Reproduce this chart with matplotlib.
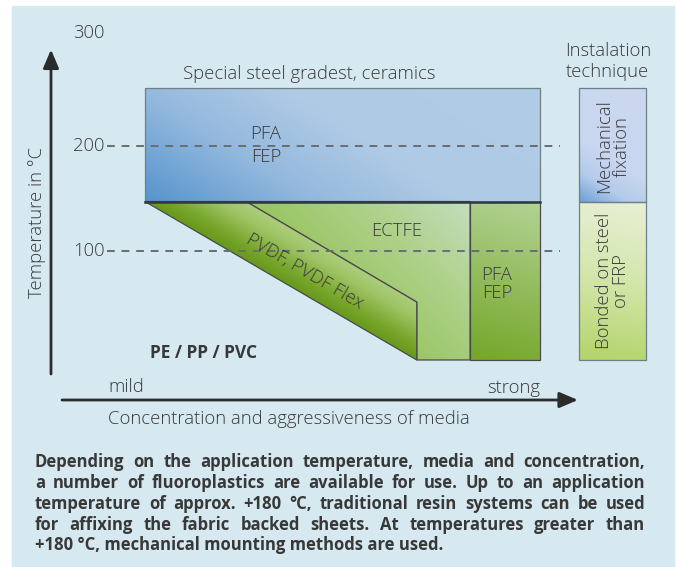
import numpy as np
import matplotlib.pyplot as plt
from matplotlib.patches import Polygon, Rectangle
from matplotlib.colors import LinearSegmentedColormap

# Werte (x = Konzentration 0..100, y = Temperatur in °C)
temp_ticks = [100, 200]
temp_tick_labels = ['100', '200']
steel_top = 255          # Special steel / ceramics
fluoro_top = 147         # Grenze blau / gruen
base_temp = -3.5         # Unterkante
pvdf_end_temp = 51.5     # rechte Oberkante PVDF-Band
conc_pvdf_start = 25.6   # PVDF-Band oben rechts
conc_pvdf_end = 68.8     # PVDF-Band rechte Kante
conc_pfa = 82.3          # PFA/FEP Spalte
conc_max = 100
install_conc = [110.0, 126.9]

caption_lines = [
    "Depending on the application temperature, media and concentration,",
    "a number of fluoroplastics are available for use. Up to an application",
    "temperature of approx. +180 °C, traditional resin systems can be used",
    "for affixing the fabric backed sheets. At temperatures greater than",
    "+180 °C, mechanical mounting methods are used.",
]

W, H = 677, 567
PX_X, PX_Y = 3.95, 1.053   # Pixel pro Einheit
panel_col = '#d6e9f0'
txt_col = '#383838'
plt.rcParams['font.family'] = ['Open Sans', 'DejaVu Sans']

fig = plt.figure(figsize=(W / 100, H / 100), dpi=100)
fig.patch.set_facecolor('white')
fig.patches.append(Rectangle((12 / W, 0), (674 - 12) / W, (567 - 6) / H,
                             transform=fig.transFigure, color=panel_col, zorder=-5))

ax = fig.add_axes([0, 0, 1, 1])
ax.set_facecolor('none')
ax.axis('off')


def grad_poly(verts, stops, direction, z=2, ec='#4a4a4a', lw=0.9):
    verts = np.array(verts, dtype=float)
    poly = Polygon(verts, closed=True, facecolor='none', edgecolor=ec, lw=lw, zorder=z + 0.1)
    ax.add_patch(poly)
    x0, x1 = verts[:, 0].min(), verts[:, 0].max()
    y0, y1 = verts[:, 1].min(), verts[:, 1].max()
    X, Y = np.meshgrid(np.linspace(x0, x1, 200), np.linspace(y0, y1, 200))
    d = np.array(direction, dtype=float)
    d /= np.linalg.norm(d)
    proj = (X - x0) * PX_X * d[0] + (Y - y0) * PX_Y * d[1]
    pv = (verts[:, 0] - x0) * PX_X * d[0] + (verts[:, 1] - y0) * PX_Y * d[1]
    proj = np.clip((proj - pv.min()) / (pv.max() - pv.min()), 0, 1)
    cmap = LinearSegmentedColormap.from_list('g', stops)
    im = ax.imshow(cmap(proj), extent=(x0, x1, y0, y1), origin='lower',
                   aspect='auto', zorder=z, interpolation='bilinear')
    im.set_clip_path(poly)
    return poly


# blaues Feld
grad_poly([(0, fluoro_top), (conc_max, fluoro_top), (conc_max, steel_top), (0, steel_top)],
          [(0, '#5694cd'), (0.3, '#94b9de'), (0.55, '#afcae5'), (1, '#b1cce5')], (1, 1.6),
          ec='#6f7f88')
# ECTFE
grad_poly([(conc_pvdf_start, fluoro_top), (conc_pfa, fluoro_top), (conc_pfa, base_temp),
           (conc_pvdf_end, base_temp), (conc_pvdf_end, pvdf_end_temp)],
          [(0, '#98c560'), (0.6, '#b2d392'), (1, '#c4dec0')], (1, 1))
# PVDF-Band
grad_poly([(0, fluoro_top), (conc_pvdf_start, fluoro_top), (conc_pvdf_end, pvdf_end_temp),
           (conc_pvdf_end, base_temp)],
          [(0, '#67991c'), (0.25, '#76a52a'), (0.7, '#9ec464'), (1, '#acce7e')],
          (0.505, 0.863), z=2.5)
# PFA/FEP Spalte
grad_poly([(conc_pfa, fluoro_top), (conc_max, fluoro_top), (conc_max, base_temp),
           (conc_pfa, base_temp)],
          [(0, '#74a628'), (1, '#b3d395')], (0.3, 1))
# Trennlinie blau/gruen
ax.plot([0, conc_max], [fluoro_top, fluoro_top], color='#2c3a40', lw=1.8, zorder=4)

# Installationsspalte
grad_poly([(install_conc[0], fluoro_top), (install_conc[1], fluoro_top),
           (install_conc[1], steel_top), (install_conc[0], steel_top)],
          [(0, '#6aa0d4'), (0.2, '#b4cbeb'), (0.4, '#c8d6ef'), (1, '#cbd8f0')], (1, 1.6),
          ec='#6f7f88')
grad_poly([(install_conc[0], base_temp), (install_conc[1], base_temp),
           (install_conc[1], fluoro_top), (install_conc[0], fluoro_top)],
          [(0, '#b3d46a'), (0.5, '#d3e6aa'), (1, '#e8f0d6')], (0.15, 1), ec='#6f7f88')

fs = 13.3
kw = dict(ha='center', va='center', fontsize=fs, color=txt_col, fontweight='light', zorder=6)

# gestrichelte Linien
for t in temp_ticks:
    ax.plot([-9.6, 105], [t, t], color='#686e72', lw=1.4, ls=(0, (4, 3.5)), zorder=5)
for t, lab in zip(temp_ticks, temp_tick_labels):
    ax.text(-10.2, t, lab, **{**kw, 'ha': 'right'})
ax.text(-10.2, 307, '300', **{**kw, 'ha': 'right'})

# Achsenpfeile
arrow = dict(arrowstyle='-|>,head_length=0.8,head_width=0.34', lw=2, color='#2b2b2b',
             mutation_scale=14, shrinkA=0, shrinkB=0)
ax.annotate('', xy=(-23.8, 291.3), xytext=(-23.8, -16.8), arrowprops=arrow)
ax.annotate('', xy=(109.6, -41.5), xytext=(-21, -41.5), arrowprops=arrow)

ax.text(-27.3, 127, 'Temperature in °C', rotation=90, **kw)
ax.text(41.6, 268, 'Special steel gradest, ceramics', **kw)
ax.text(117.2, 280, 'Instalation\ntechnique', linespacing=1.2, **kw)
ax.text(30.6, 200.5, 'PFA\nFEP', linespacing=1.35, **kw)
ax.text(63.8, 119, 'ECTFE', **kw)
ax.text(40.5, 81, 'PVDF, PVDF Flex', rotation=-30.3, rotation_mode='anchor', **kw)
ax.text(89.1, 68.5, 'PFA\nFEP', linespacing=1.0, **kw)
ax.text(14.9, 3.1, 'PE / PP / PVC', ha='center', va='center', fontsize=12.5,
        color=txt_col, fontweight='bold')
ax.text(-4.8, -29, 'mild', **kw)
ax.text(93.3, -30, 'strong', **kw)
ax.text(36.5, -59.7, 'Concentration and aggressiveness of media', **kw)
ax.text(118.4, 199.6, 'Mechanical\nfixation', rotation=90, linespacing=0.95, **kw)
ax.text(118.4, 71.5, 'Bonded on steel\nor FRP', rotation=90, linespacing=0.95, **kw)

ax.set_xlim(-145 / PX_X, (W - 145) / PX_X)
ax.set_ylim((356.3 - H) / PX_Y, 356.3 / PX_Y)

# Bildunterschrift im Blocksatz
cap_fs = 12
left, right = 35, 645
line_y = [462, 483, 504, 525, 545]
renderer = fig.canvas.get_renderer()
for i, (line, y) in enumerate(zip(caption_lines, line_y)):
    words = line.split(' ')
    if i == len(caption_lines) - 1:
        fig.text(left / W, 1 - y / H, line, ha='left', va='center', fontsize=cap_fs,
                 fontweight='bold', color=txt_col)
        continue
    arts = [fig.text(0, 1 - y / H, w, ha='left', va='center', fontsize=cap_fs,
                     fontweight='bold', color=txt_col) for w in words]
    widths = [a.get_window_extent(renderer).width for a in arts]
    gap = (right - left - sum(widths)) / (len(words) - 1)
    x = left
    for a, w in zip(arts, widths):
        a.set_x(x / W)
        x += w + gap

fig.savefig('out.png', dpi=100)
